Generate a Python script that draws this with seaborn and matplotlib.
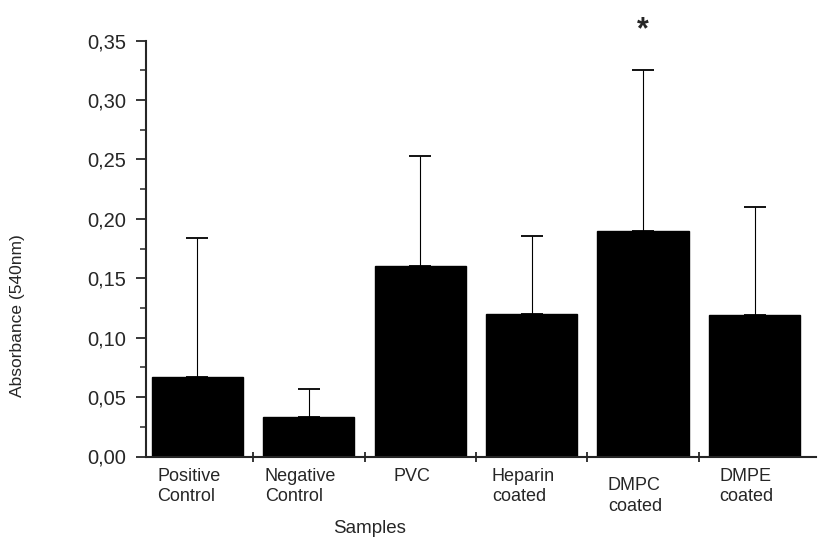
import numpy as np
import matplotlib
matplotlib.use("Agg")
import matplotlib.pyplot as plt
import matplotlib.transforms as mtransforms
from matplotlib.ticker import MultipleLocator, FuncFormatter
import seaborn as sns

# 数据
samples = ["Positive\nControl", "Negative\nControl", "PVC",
           "Heparin\ncoated", "DMPC\ncoated", "DMPE\ncoated"]
absorbance = [0.067, 0.033, 0.160, 0.120, 0.190, 0.119]
upper_err = [0.117, 0.024, 0.093, 0.066, 0.135, 0.091]
significant = [False, False, False, False, True, False]

sns.set_style("ticks")
plt.rcParams["font.family"] = ["Liberation Sans", "DejaVu Sans"]

fig = plt.figure(figsize=(8.18, 5.42), dpi=100)
ax = fig.add_axes([146 / 818, 85.5 / 542, 670 / 818, 415.8 / 542])

sns.barplot(x=samples, y=absorbance, color="black", saturation=1,
            width=0.82, edgecolor="black", ax=ax)

xpos = np.arange(len(samples))
ax.errorbar(xpos, absorbance, yerr=[np.zeros(len(samples)), upper_err],
            fmt="none", ecolor="black", elinewidth=0.8,
            capsize=8, capthick=1.3)

# 显著性标记
for i, sig in enumerate(significant):
    if sig:
        ax.text(i, absorbance[i] + upper_err[i] + 0.034, "*", ha="center",
                va="center", fontsize=22, fontweight="bold", clip_on=False)

ax.set_xlim(-0.46, 5.55)
ax.set_ylim(0, 0.35)

# y 轴刻度，逗号小数
ax.yaxis.set_major_locator(MultipleLocator(0.05))
ax.yaxis.set_minor_locator(MultipleLocator(0.025))
ax.yaxis.set_major_formatter(FuncFormatter(lambda v, p: f"{v:.2f}".replace(".", ",")))
ax.tick_params(axis="y", which="major", direction="out", length=7, width=1.3,
               pad=7, labelsize=14.5)
ax.tick_params(axis="y", which="minor", direction="out", length=4, width=1.1)

# x 轴：刻度在类别之间，标签在类别中心
ax.set_xticks(xpos[:-1] + 0.5)
ax.set_xticklabels([])
ax.set_xticks(xpos, labels=samples, minor=True)
ax.tick_params(axis="x", which="major", direction="inout", length=7, width=1.3)
ax.tick_params(axis="x", which="minor", length=0, pad=8, labelsize=13)
for lab in ax.get_xticklabels(minor=True):
    lab.set_multialignment("left")
    lab.set_linespacing(1.25)
    dy = -7 if lab.get_text().startswith("DMPC") else 0
    lab.set_transform(lab.get_transform() +
                      mtransforms.ScaledTranslation(-6 / 72, dy / 72, fig.dpi_scale_trans))

for side in ["top", "right"]:
    ax.spines[side].set_visible(False)
for side in ["left", "bottom"]:
    ax.spines[side].set_linewidth(1.5)

ax.set_xlabel("Samples", fontsize=13.5)
ax.set_ylabel("Absorbance (540nm)", fontsize=12.5)
ax.xaxis.set_label_coords(0.334, -0.152)
ax.yaxis.set_label_coords(-0.18, 0.338)

fig.savefig("out.png", dpi=100)
plt.close(fig)
